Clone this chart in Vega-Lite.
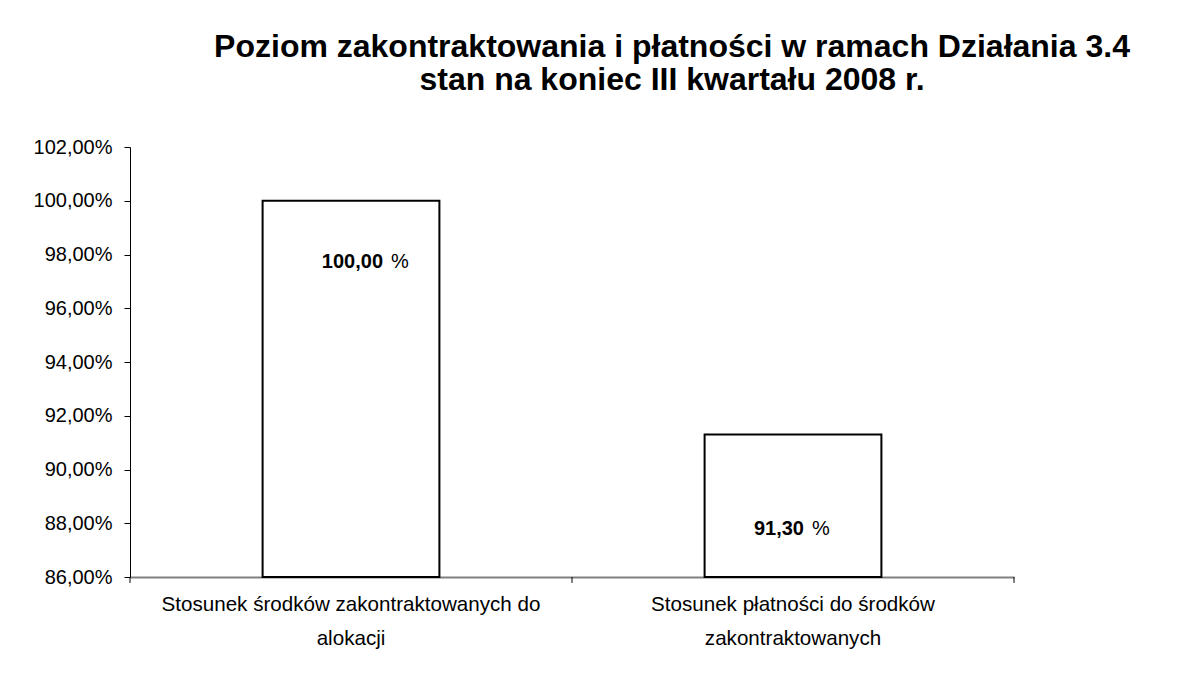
{
  "$schema": "https://vega.github.io/schema/vega-lite/v6.json",
  "autosize": "none",
  "width": 884,
  "height": 430,
  "padding": {"left": 130, "top": 147, "right": 187, "bottom": 104},
  "background": "white",
  "config": {
    "locale": {"number": {"decimal": ",", "thousands": " ", "grouping": [3], "currency": ["", " zł"]}},
    "font": "Liberation Sans",
    "view": {"stroke": null}
  },
  "title": {
    "text": ["Poziom zakontraktowania i płatności w ramach Działania 3.4", "stan na  koniec III kwartału 2008 r."],
    "font": "Liberation Sans",
    "fontSize": 32,
    "fontWeight": "bold",
    "color": "black",
    "anchor": "middle",
    "dx": 100,
    "offset": 40,
    "lineHeight": 33
  },
  "data": {
    "values": [
      {"kategoria": "Stosunek środków zakontraktowanych do alokacji", "wartosc": 100.0},
      {"kategoria": "Stosunek płatności do środków zakontraktowanych", "wartosc": 91.3}
    ]
  },
  "encoding": {
    "x": {
      "field": "kategoria",
      "type": "nominal",
      "sort": null,
      "scale": {"paddingInner": 0, "paddingOuter": 0},
      "axis": {
        "title": null,
        "labelAngle": 0,
        "labelFont": "Liberation Sans",
        "labelFontSize": 20.6,
        "labelColor": "black",
        "labelLimit": 0,
        "labelLineHeight": 34,
        "labelPadding": 17,
        "labelBaseline": "top",
        "ticks": false,
        "domainColor": "#808080",
        "domainWidth": 2,
        "labelExpr": "datum.value == 'Stosunek środków zakontraktowanych do alokacji' ? ['Stosunek środków zakontraktowanych do', 'alokacji'] : ['Stosunek płatności do środków', 'zakontraktowanych']"
      }
    }
  },
  "layer": [
    {
      "mark": {"type": "bar", "fill": "white", "stroke": "black", "strokeWidth": 2, "width": {"band": 0.4}},
      "encoding": {
        "y": {
          "field": "wartosc",
          "type": "quantitative",
          "scale": {"domain": [86, 102], "zero": false, "nice": false},
          "axis": {
            "title": null,
            "labelExpr": "format(datum.value, '.2f') + '%'",
            "values": [86, 88, 90, 92, 94, 96, 98, 100, 102],
            "grid": false,
            "labelFont": "Liberation Sans",
            "labelFontSize": 20,
            "labelColor": "black",
            "labelPadding": 12,
            "tickColor": "black",
            "tickSize": 6,
            "domainColor": "black",
            "domainWidth": 1
          }
        },
        "y2": {"datum": 86}
      }
    },
    {
      "mark": {"type": "rule", "color": "black", "strokeWidth": 1, "clip": false},
      "encoding": {
        "x": {"field": "kategoria", "type": "nominal", "sort": null, "bandPosition": 0},
        "y": {"datum": 86},
        "y2": {"datum": 85.78}
      }
    },
    {
      "transform": [{"filter": "datum.wartosc < 100"}],
      "mark": {"type": "rule", "color": "black", "strokeWidth": 1, "clip": false},
      "encoding": {
        "x": {"field": "kategoria", "type": "nominal", "sort": null, "bandPosition": 1},
        "y": {"datum": 86},
        "y2": {"datum": 85.78}
      }
    },
    {
      "transform": [{"filter": "datum.wartosc == 100"}],
      "mark": {"type": "text", "align": "right", "baseline": "middle", "fontWeight": "bold", "fontSize": 20, "color": "black", "dx": 32, "dy": 61},
      "encoding": {
        "y": {"field": "wartosc", "type": "quantitative"},
        "text": {"field": "wartosc", "type": "quantitative", "format": ".2f"}
      }
    },
    {
      "transform": [{"filter": "datum.wartosc == 100"}],
      "mark": {"type": "text", "align": "left", "baseline": "middle", "fontSize": 20, "color": "black", "dx": 40, "dy": 61, "text": "%"},
      "encoding": {
        "y": {"field": "wartosc", "type": "quantitative"}
      }
    },
    {
      "transform": [{"filter": "datum.wartosc < 100"}],
      "mark": {"type": "text", "align": "right", "baseline": "middle", "fontWeight": "bold", "fontSize": 20, "color": "black", "dx": 11, "dy": 94},
      "encoding": {
        "y": {"field": "wartosc", "type": "quantitative"},
        "text": {"field": "wartosc", "type": "quantitative", "format": ".2f"}
      }
    },
    {
      "transform": [{"filter": "datum.wartosc < 100"}],
      "mark": {"type": "text", "align": "left", "baseline": "middle", "fontSize": 20, "color": "black", "dx": 19, "dy": 94, "text": "%"},
      "encoding": {
        "y": {"field": "wartosc", "type": "quantitative"}
      }
    }
  ]
}
